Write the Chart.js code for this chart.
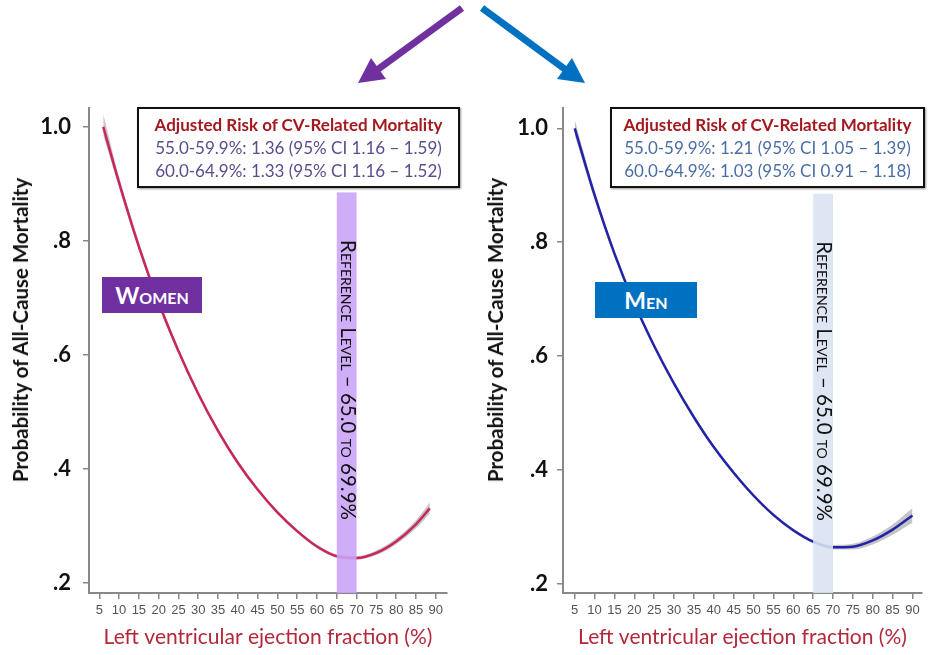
<!DOCTYPE html>
<html>
<head>
<meta charset="utf-8">
<script src="https://cdn.jsdelivr.net/npm/chart.js@4.4.0/dist/chart.umd.min.js"></script>
<style>
  html, body { margin:0; padding:0; background:#fff; }
  body { width:941px; height:655px; position:relative; overflow:hidden; font-family:Lato, "Open Sans", sans-serif; }
  canvas { position:absolute; top:95px; }
  #cWomen { left:0; }
  #cMen { left:470px; }
  .ytitle { position:absolute; font-weight:bold; font-size:20.5px; color:#111; white-space:nowrap;
            transform:translate(-50%,-50%) rotate(-90deg); }
  .riskbox { position:absolute; border:2px solid #111; box-shadow:1px 1px 2px #999; background:#fff;
             text-align:center; font-size:17px; line-height:23px; padding-top:4px; box-sizing:border-box; }
  .riskbox .t { color:#a3191f; font-weight:bold; }
  .tag { position:absolute; color:#fff; font-weight:bold; font-variant:small-caps; font-size:23px;
         text-align:center; box-sizing:border-box; }
</style>
</head>
<body>
<svg width="941" height="100" style="position:absolute;left:0;top:0">
  <line x1="462" y1="8" x2="377" y2="70" stroke="#7030a0" stroke-width="7"/>
  <polygon points="358,83 386,79 371,58" fill="#7030a0"/>
  <line x1="482" y1="8" x2="566" y2="70" stroke="#0070c0" stroke-width="7"/>
  <polygon points="585,83 557,79 572,58" fill="#0070c0"/>
</svg>

<canvas id="cWomen" width="470" height="560"></canvas>
<canvas id="cMen" width="471" height="560"></canvas>

<div class="ytitle" style="left:20px;top:330px">Probability of All-Cause Mortality</div>
<div class="ytitle" style="left:495px;top:330px">Probability of All-Cause Mortality</div>

<div class="riskbox" style="left:137px;top:107px;width:323px;height:81px;color:#5e4b8e">
  <div class="t">Adjusted Risk of CV-Related Mortality</div>
  <div>55.0-59.9%: 1.36 (95% CI 1.16 – 1.59)</div>
  <div>60.0-64.9%: 1.33 (95% CI 1.16 – 1.52)</div>
</div>
<div class="riskbox" style="left:610px;top:107px;width:315px;height:81px;color:#4a6da6">
  <div class="t">Adjusted Risk of CV-Related Mortality</div>
  <div>55.0-59.9%: 1.21 (95% CI 1.05 – 1.39)</div>
  <div>60.0-64.9%: 1.03 (95% CI 0.91 – 1.18)</div>
</div>

<div class="tag" style="left:102px;top:277px;width:100px;height:36px;line-height:36px;background:#7030a0">Women</div>
<div class="tag" style="left:595px;top:282px;width:102px;height:36px;line-height:36px;background:#0070c0">Men</div>

<script>
// LVEF tick values and y ticks
const xTicks = [5,10,15,20,25,30,35,40,45,50,55,60,65,70,75,80,85,90];
const yTicks = [0.2,0.4,0.6,0.8,1.0];
const yTickLabels = [".2",".4",".6",".8","1.0"];

// women: predicted probability + 95% CI
const womenX  = [6,10,15,20,25,30,35,40,45,50,55,60,65,70,75,80,85,88.5];
const womenP  = [1.000,0.902,0.790,0.692,0.607,0.532,0.467,0.411,0.364,0.324,0.291,0.264,0.247,0.244,0.253,0.273,0.303,0.331];
const womenHi = [1.022,0.912,0.798,0.698,0.612,0.536,0.471,0.415,0.367,0.327,0.294,0.267,0.250,0.247,0.257,0.278,0.310,0.341];
const womenLo = [0.985,0.893,0.783,0.686,0.602,0.528,0.463,0.407,0.361,0.321,0.288,0.261,0.244,0.241,0.249,0.268,0.296,0.322];

// men
const menX  = [5,10,15,20,25,30,35,40,45,50,55,60,65,70,75,80,85,90];
const menP  = [1.000,0.8825,0.780,0.6925,0.6175,0.5515,0.4925,0.440,0.395,0.355,0.321,0.294,0.274,0.264,0.265,0.276,0.295,0.320];
const menHi = [1.015,0.891,0.786,0.697,0.621,0.555,0.496,0.443,0.398,0.358,0.324,0.297,0.277,0.268,0.270,0.283,0.304,0.333];
const menLo = [0.988,0.875,0.774,0.688,0.614,0.548,0.489,0.437,0.392,0.352,0.318,0.291,0.271,0.260,0.260,0.269,0.286,0.307];

// reference level band (LVEF 65-70)
const refFrom = 65, refTo = 70;

const refBand = {
  id: "refBand",
  afterDatasetsDraw(chart, args, o){
    const { ctx, chartArea, scales:{ x, y } } = chart;
    const l = x.getPixelForValue(refFrom), r = x.getPixelForValue(refTo);
    const t = y.getPixelForValue(o.top);
    ctx.save();
    ctx.globalAlpha = o.alpha;
    ctx.fillStyle = o.color;
    ctx.fillRect(l, t, r - l, chartArea.bottom - t);
    ctx.globalAlpha = 1;
    ctx.translate((l + r) / 2 + 1, y.getPixelForValue(o.labelAt));
    ctx.rotate(Math.PI / 2);
    ctx.font = "small-caps 20.5px Lato";
    if ("fontVariantCaps" in ctx) ctx.fontVariantCaps = "small-caps";
    ctx.fillStyle = "#111";
    ctx.textAlign = "center";
    ctx.textBaseline = "middle";
    ctx.fillText("Reference Level – 65.0 to 69.9%", 0, 0);
    ctx.restore();
  }
};

function pts(xs, ys){ return xs.map((x, i) => ({ x, y: ys[i] })); }

function makeChart(id, xs, p, hi, lo, cfg){
  return new Chart(document.getElementById(id).getContext("2d"), {
    type: "line",
    data: {
      datasets: [
        // first dataset is drawn last, so the line sits on top of the CI
        { data: pts(xs, p), borderColor: cfg.line, borderWidth: 2.5, pointRadius: 0, fill: false, cubicInterpolationMode: "monotone" },
        { data: pts(xs, hi), borderWidth: 0, pointRadius: 0, fill: false, cubicInterpolationMode: "monotone" },
        { data: pts(xs, lo), borderWidth: 0, pointRadius: 0, fill: "-1", backgroundColor: "rgba(150,150,150,0.55)", cubicInterpolationMode: "monotone" }
      ]
    },
    options: {
      responsive: false,
      animation: false,
      layout: { padding: { top: 13, right: cfg.padRight, left: 0, bottom: 0 } },
      plugins: {
        legend: { display: false },
        tooltip: { enabled: false },
        refBand: { top: 0.885, labelAt: 0.556, color: cfg.band, alpha: 0.88 }
      },
      scales: {
        x: {
          type: "linear", min: cfg.xMin, max: cfg.xMax,
          afterBuildTicks: s => { s.ticks = xTicks.map(v => ({ value: v })); },
          afterFit: s => { s.height = 62; s.paddingLeft = 0; s.paddingRight = 0; },
          ticks: { autoSkip: false, maxRotation: 0, padding: 4, color: "#555",
                   font: { family: "Liberation Sans", size: 13 } },
          grid: { drawOnChartArea: false, tickLength: 6, color: "#888", lineWidth: 1.5 },
          border: { color: "#888", width: 2 },
          title: { display: true, text: "Left ventricular ejection fraction (%)", color: "#b3283a",
                   font: { family: "Lato", size: 21 }, padding: { top: 2, bottom: 5 } }
        },
        y: {
          min: cfg.yMin, max: cfg.yMax,
          afterBuildTicks: s => { s.ticks = yTicks.map(v => ({ value: v })); },
          afterFit: s => { s.width = cfg.yWidth; s.paddingTop = 0; s.paddingBottom = 0; },
          ticks: { padding: cfg.yPad, color: "#111", font: { family: "Lato", size: 22, weight: "bold" },
                   callback: v => yTickLabels[yTicks.indexOf(v)] },
          grid: { drawOnChartArea: false, tickLength: 6, color: "#888", lineWidth: 1.5 },
          border: { color: "#888", width: 2 }
        }
      }
    },
    plugins: [refBand]
  });
}

makeChart("cWomen", womenX, womenP, womenHi, womenLo, {
  line: "#c8265c", band: "#c9a2f7", padRight: 23, yWidth: 89, yPad: 12,
  xMin: 2.4, xMax: 92.85, yMin: 0.1825, yMax: 1.033
});
makeChart("cMen", menX, menP, menHi, menLo, {
  line: "#2323aa", band: "#dbe2f1", padRight: 19, yWidth: 93, yPad: 9,
  xMin: 2.05, xMax: 92.4, yMin: 0.1837, yMax: 1.0357
});
</script>
</body>
</html>
